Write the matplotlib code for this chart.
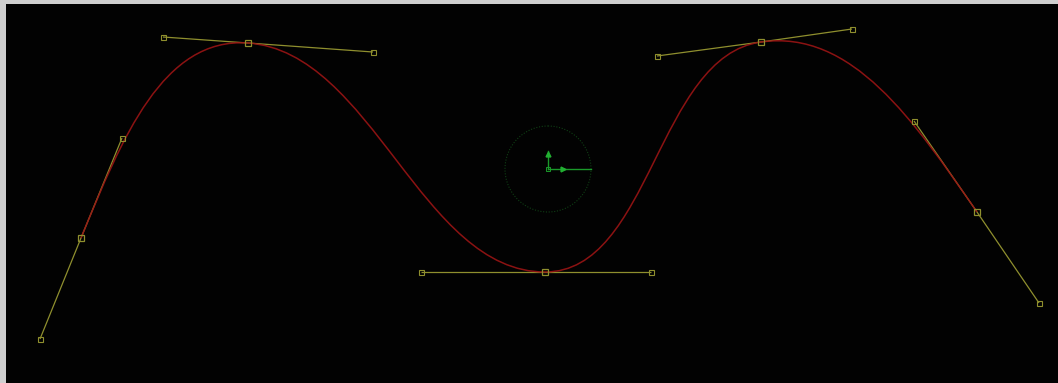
import matplotlib
matplotlib.use("Agg")
import matplotlib.pyplot as plt
from matplotlib.path import Path
from matplotlib.patches import PathPatch, Circle

# Bezier spline: anchor points with incoming / outgoing handles (pixel coordinates)
anchor_x = [81, 248, 545, 761, 977]
anchor_y = [238, 43, 272, 42, 212]
handle_in_x = [40, 163, 421, 657, 914]
handle_in_y = [339, 37, 272, 56, 121]
handle_out_x = [122, 373, 651, 852, 1039]
handle_out_y = [138, 52, 272, 29, 303]

# transform gizmo
gizmo_center = (548, 169)
gizmo_radius = 43
gizmo_axis_len = 43
gizmo_up_len = 18

W, H = 1058, 383
fig = plt.figure(figsize=(W / 100, H / 100), dpi=100)
fig.patch.set_facecolor("#cfcfcf")
left_px, top_px = 6, 4
ax = fig.add_axes([left_px / W, 0, (W - left_px) / W, (H - top_px) / H])
ax.set_facecolor("#020202")
ax.set_xlim(left_px, W)
ax.set_ylim(H, top_px)
ax.set_axis_off()
ax.add_patch(plt.Rectangle((left_px, top_px), W - left_px, H - top_px,
                           facecolor="#020202", edgecolor="none", zorder=0))

curve_col = "#9a1414"
handle_col = "#8f8f2e"

# handle lines and markers
for i in range(len(anchor_x)):
    ax.plot([handle_in_x[i], anchor_x[i], handle_out_x[i]],
            [handle_in_y[i], anchor_y[i], handle_out_y[i]],
            color=handle_col, lw=0.9, zorder=2, solid_capstyle="butt")
    ax.plot([handle_in_x[i], handle_out_x[i]], [handle_in_y[i], handle_out_y[i]],
            ls="none", marker="s", ms=3.6, mfc="none", mec=handle_col, mew=0.8, zorder=4)
    ax.plot([anchor_x[i]], [anchor_y[i]], ls="none", marker="s", ms=4.2,
            mfc="none", mec=handle_col, mew=0.9, zorder=4)

# bezier curve
verts = [(anchor_x[0], anchor_y[0])]
codes = [Path.MOVETO]
for i in range(len(anchor_x) - 1):
    verts += [(handle_out_x[i], handle_out_y[i]),
              (handle_in_x[i + 1], handle_in_y[i + 1]),
              (anchor_x[i + 1], anchor_y[i + 1])]
    codes += [Path.CURVE4] * 3
path = Path(verts, codes)
ax.add_patch(PathPatch(path, facecolor="none", edgecolor=curve_col, lw=1.1,
                       alpha=0.9, zorder=3))

# gizmo
cx, cy = gizmo_center
ax.add_patch(Circle((cx, cy), gizmo_radius, facecolor="none", edgecolor="#0f3f14",
                    lw=0.8, ls=(0, (1, 1.5)), zorder=2))
ax.plot([cx, cx + gizmo_axis_len], [cy, cy], color="#1a9a2a", lw=1.0, zorder=5)
ax.plot([cx, cx], [cy, cy - gizmo_up_len], color="#1a9a2a", lw=1.0, zorder=5)
ax.plot([cx + 15], [cy], ls="none", marker=">", ms=3.5, color="#22b032", zorder=6)
ax.plot([cx], [cy - 15], ls="none", marker="^", ms=3.5, color="#22b032", zorder=6)
ax.plot([cx], [cy], ls="none", marker="s", ms=2.5, mfc="none", mec="#1a9a2a", mew=0.7, zorder=6)

fig.savefig("out.png", dpi=100, facecolor=fig.get_facecolor())
